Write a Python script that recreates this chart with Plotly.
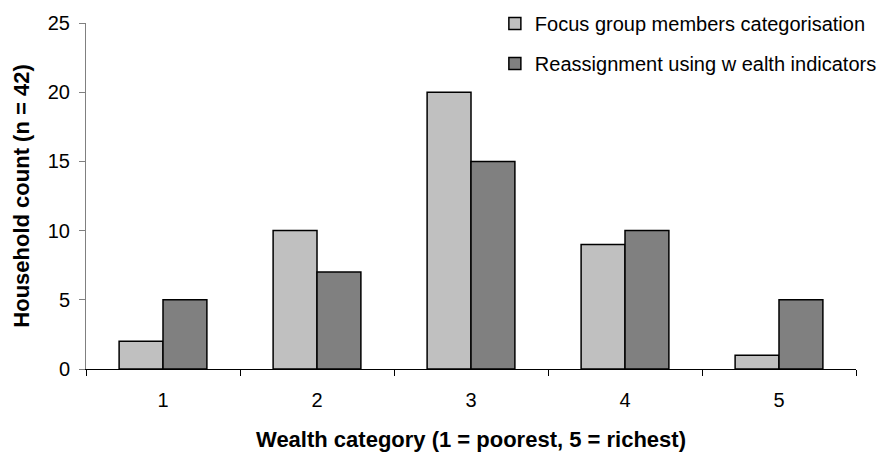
import plotly.graph_objects as go

categories = ["1", "2", "3", "4", "5"]
focus_group = [2, 10, 20, 9, 1]
reassigned = [5, 7, 15, 10, 5]
series_names = ["Focus group members categorisation", "Reassignment using w ealth indicators"]
y_ticks = [0, 5, 10, 15, 20, 25]

fig = go.Figure()
fig.add_bar(x=categories, y=focus_group, name=series_names[0],
            marker=dict(color="#C0C0C0", line=dict(color="black", width=1.5)),
            legendgroup="a")
fig.add_bar(x=categories, y=reassigned, name=series_names[1],
            marker=dict(color="#808080", line=dict(color="black", width=1.5)),
            legendgroup="b")

fig.update_layout(
    width=886, height=444,
    margin=dict(l=78, r=38, t=15, b=83, autoexpand=False),
    paper_bgcolor="white", plot_bgcolor="white",
    barmode="group", bargap=0.43, bargroupgap=0,
    font=dict(family="Liberation Sans, Arial", size=20, color="black"),
    showlegend=True,
    legend=dict(x=0.531, y=1.055, xanchor="left", yanchor="top",
                bgcolor="rgba(0,0,0,0)", traceorder="grouped", tracegroupgap=11,
                font=dict(size=20)),
    xaxis=dict(showline=True, linecolor="black", linewidth=1,
               ticks="outside", ticklen=6, tickcolor="black",
               tickson="boundaries", showgrid=False, automargin=False,
               tickfont=dict(size=20), ticklabelstandoff=13,
               title=dict(text="<b>Wealth category (1 = poorest, 5 = richest)</b>",
                          font=dict(size=22), standoff=21)),
    yaxis=dict(range=[0, 25], tickvals=y_ticks, showline=True, linecolor="#808080",
               linewidth=1, ticks="outside", ticklen=6, tickcolor="#808080",
               showgrid=False, zeroline=False, automargin=False,
               tickfont=dict(size=20), ticklabelstandoff=5,
               title=dict(text="<b>Household count (n = 42)</b>",
                          font=dict(size=22), standoff=12)),
)

fig.write_html("out.html")
